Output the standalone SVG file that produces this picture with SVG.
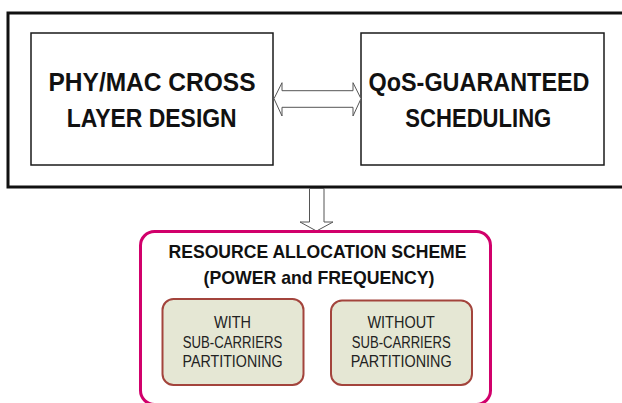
<svg xmlns="http://www.w3.org/2000/svg" width="622" height="403" viewBox="0 0 622 403">
<style>
.box{fill:#ffffff;stroke:#1a1a1a;stroke-width:1.5}
.big{font-family:"Liberation Sans",Arial,sans-serif;font-weight:bold;font-size:26.5px;fill:#111;text-anchor:middle}
.title{font-family:"Liberation Sans",Arial,sans-serif;font-weight:bold;font-size:19px;fill:#111;text-anchor:middle}
.sub{fill:#e5e7d4;stroke:#a3443c;stroke-width:2}
.small{font-family:"Liberation Sans",Arial,sans-serif;font-size:15.6px;fill:#222;text-anchor:middle}
.arrow{fill:#ffffff;stroke:#555;stroke-width:1}
</style>
<rect x="0" y="0" width="622" height="403" fill="#ffffff"/>
<g id="outer">
<rect x="8" y="13" width="622" height="174" fill="none" stroke="#111" stroke-width="3"/>
</g>
<g id="phymac">
<rect class="box" x="31" y="33" width="242" height="132"/>
<text class="big" x="152" y="90.7" textLength="207" lengthAdjust="spacingAndGlyphs">PHY/MAC CROSS</text>
<text class="big" x="151.7" y="126.5" textLength="170" lengthAdjust="spacingAndGlyphs">LAYER DESIGN</text>
</g>
<g id="qos">
<rect class="box" x="361" y="33" width="243" height="132"/>
<text class="big" x="479" y="90.7" textLength="221" lengthAdjust="spacingAndGlyphs">QoS-GUARANTEED</text>
<text class="big" x="478.3" y="126.5" textLength="146" lengthAdjust="spacingAndGlyphs">SCHEDULING</text>
</g>
<g id="connectors">
<polygon class="arrow" points="274,98.7 282,82.7 282,90.7 353,90.7 353,82.7 361,98.7 353,116 353,107.3 282,107.3 282,116"/>
<polygon class="arrow" points="309.5,188.5 324,188.5 324,222 333,222 316.5,231 300,222 309.5,222"/>
</g>
<g id="resource">
<rect x="140.5" y="231.5" width="350" height="173" rx="14" ry="14" fill="#ffffff" stroke="#d1006b" stroke-width="3"/>
<text class="title" x="317.5" y="257.7" textLength="298" lengthAdjust="spacingAndGlyphs">RESOURCE ALLOCATION SCHEME</text>
<text class="title" x="319" y="284.3" textLength="231" lengthAdjust="spacingAndGlyphs">(POWER and FREQUENCY)</text>
</g>
<g id="with">
<rect class="sub" x="162.5" y="299" width="141" height="86" rx="11" ry="11"/>
<text class="small" x="232.5" y="327.7" textLength="37" lengthAdjust="spacingAndGlyphs">WITH</text>
<text class="small" x="232.5" y="347.7" textLength="99.5" lengthAdjust="spacingAndGlyphs">SUB-CARRIERS</text>
<text class="small" x="232.5" y="367.3" textLength="100" lengthAdjust="spacingAndGlyphs">PARTITIONING</text>
</g>
<g id="without">
<rect class="sub" x="331" y="300.5" width="141" height="84.5" rx="11" ry="11"/>
<text class="small" x="401.2" y="327.7" textLength="67.5" lengthAdjust="spacingAndGlyphs">WITHOUT</text>
<text class="small" x="401.2" y="347.7" textLength="99" lengthAdjust="spacingAndGlyphs">SUB-CARRIERS</text>
<text class="small" x="401.2" y="367.3" textLength="101" lengthAdjust="spacingAndGlyphs">PARTITIONING</text>
</g>
</svg>
